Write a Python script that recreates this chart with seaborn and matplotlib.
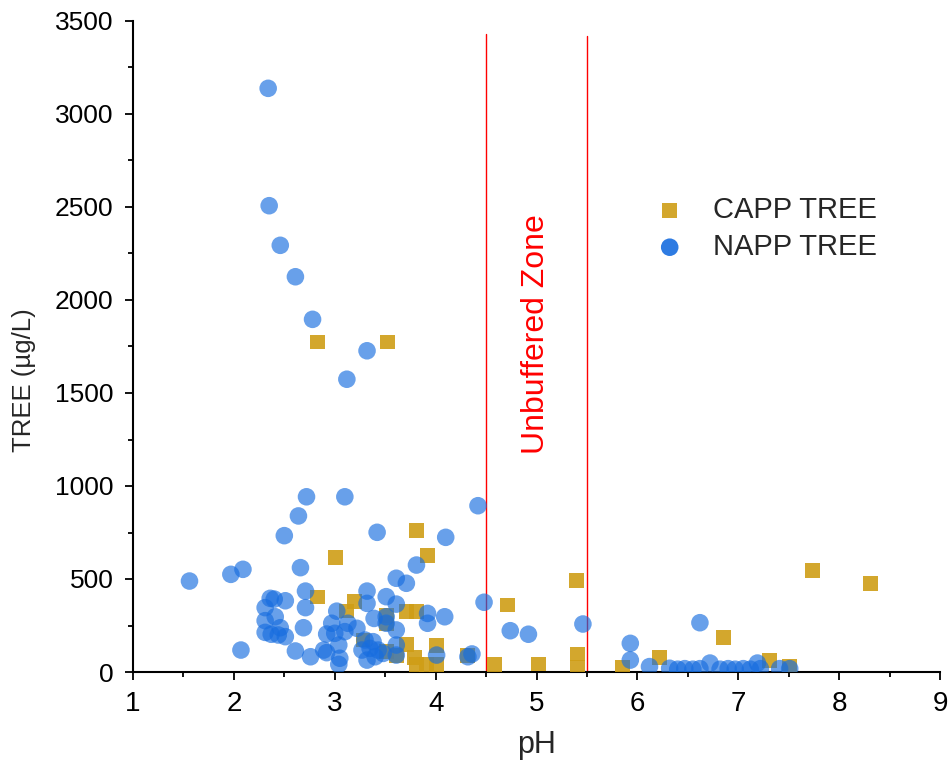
import matplotlib
matplotlib.use("Agg")
import matplotlib.pyplot as plt
import seaborn as sns
import pandas as pd
from matplotlib.ticker import MultipleLocator

# ---- data ----
capp_ph = [2.83, 2.83, 3.52, 3.01, 3.20, 3.12, 3.28, 3.51, 3.51, 3.51, 3.61, 3.71,
           3.81, 3.71, 3.79, 3.81, 3.91, 4.01, 4.01, 3.81, 3.92, 4.32, 4.58, 4.71,
           5.02, 5.40, 5.41, 5.41, 5.85, 6.22, 6.85, 7.31, 7.51, 7.74, 8.31]
capp_tree = [403, 1774, 1774, 617, 380, 328, 172, 306, 262, 109, 88, 324,
             324, 150, 78, 38, 38, 38, 143, 763, 624, 91, 41, 360,
             43, 493, 97, 25, 25, 80, 184, 61, 29, 548, 477]

napp_ph = [1.56, 1.97, 2.07, 2.09, 2.31, 2.31, 2.31, 2.34, 2.35, 2.36, 2.40, 2.37,
           2.41, 2.44, 2.46, 2.46, 2.50, 2.51, 2.51, 2.61, 2.61, 2.64, 2.66, 2.69,
           2.71, 2.71, 2.72, 2.76, 2.78, 2.89, 2.92, 2.92, 2.97, 3.00, 3.02, 3.04,
           3.05, 3.04, 3.10, 3.10, 3.12, 3.13, 3.22, 3.32, 3.32, 3.32, 3.39, 3.42,
           3.51, 3.51, 3.51, 3.61, 3.61, 3.61, 3.61, 3.61, 3.71, 3.81, 3.92, 3.92,
           4.01, 4.09, 4.10, 4.32, 4.36, 4.42, 4.48, 4.74, 4.92, 5.46, 5.93, 5.93,
           6.12, 6.62, 6.72, 7.19,
           3.30, 3.38, 3.27, 3.35, 3.43, 3.32, 3.40, 3.48,
           6.32, 6.40, 6.47, 6.55, 6.62, 6.82, 6.90, 6.97, 7.05, 7.12, 7.22, 7.41, 7.51]
napp_tree = [489, 525, 118, 552, 346, 276, 213, 3138, 2507, 396, 392, 203,
             297, 199, 2294, 238, 733, 383, 190, 2125, 113, 839, 561, 238,
             435, 346, 942, 82, 1896, 118, 104, 204, 262, 208, 327, 145,
             74, 41, 942, 217, 1574, 262, 235, 1727, 435, 369, 288, 751,
             405, 297, 262, 504, 365, 226, 145, 91, 477, 575, 315, 262,
             91, 297, 724, 82, 97, 894, 375, 222, 203, 258, 154, 64,
             29, 265, 48, 48,
             172, 163, 118, 127, 118, 64, 82, 100,
             20, 15, 18, 15, 18, 15, 18, 15, 18, 15, 18, 18, 18]

zone_bounds = [4.5, 5.5]
zone_label = "Unbuffered Zone"
series_names = ["CAPP TREE", "NAPP TREE"]

capp = pd.DataFrame({"pH": capp_ph, "TREE": capp_tree})
napp = pd.DataFrame({"pH": napp_ph, "TREE": napp_tree})

sns.set_style("ticks")
plt.rcParams["font.family"] = ["Liberation Sans", "DejaVu Sans"]

fig = plt.figure(figsize=(9.51, 7.75), dpi=100)
ax = fig.add_axes([133 / 951, 1 - 672 / 775, (940 - 133) / 951, (672 - 21) / 775])

sns.scatterplot(data=capp, x="pH", y="TREE", ax=ax, marker="s", s=115,
                color=(207 / 255, 158 / 255, 22 / 255), alpha=0.9,
                edgecolor="none", label=series_names[0], zorder=3)
sns.scatterplot(data=napp, x="pH", y="TREE", ax=ax, marker="o", s=160,
                color="#176ddf", alpha=0.65, edgecolor="none",
                label=series_names[1], zorder=4)

ax.axvline(zone_bounds[0], ymin=0, ymax=3430 / 3500, color="red", lw=1.0, zorder=2)
ax.axvline(zone_bounds[1], ymin=0, ymax=3420 / 3500, color="red", lw=1.0, zorder=2)
ax.text(5.0, 1817, zone_label, rotation=90, color="red", fontsize=23,
        ha="center", va="center")

ax.set_xlim(1, 9)
ax.set_ylim(0, 3500)
ax.xaxis.set_major_locator(MultipleLocator(1))
ax.xaxis.set_minor_locator(MultipleLocator(0.5))
ax.yaxis.set_major_locator(MultipleLocator(500))
ax.yaxis.set_minor_locator(MultipleLocator(250))
ax.tick_params(which="major", direction="out", length=6, width=1.3,
               labelsize=19, color="black", labelcolor="black", pad=8)
ax.tick_params(which="minor", direction="out", length=3.5, width=1.3, color="black")
ax.tick_params(axis="x", which="major", labelsize=20)

for side in ["top", "right"]:
    ax.spines[side].set_visible(False)
for side in ["left", "bottom"]:
    ax.spines[side].set_linewidth(1.5)
    ax.spines[side].set_color("black")

ax.set_xlabel("pH", fontsize=22)
ax.set_ylabel("TREE (\u00b5g/L)", fontsize=18.5)
ax.xaxis.set_label_coords(0.5, (672 - 745) / 651, transform=ax.transAxes)
ax.yaxis.set_label_coords((24 - 133) / 807, (672 - 380) / 651, transform=ax.transAxes)
ax.xaxis.label.set_va("center")
ax.yaxis.label.set_va("center")

leg = ax.legend(loc="upper left", bbox_to_anchor=(0.647, 0.731), frameon=False,
                fontsize=21, handlelength=1.0, handletextpad=1.0,
                labelspacing=0.3, borderaxespad=0, borderpad=0)
for h in leg.legend_handles:
    h.set_alpha(0.9)

fig.savefig("out.png", dpi=100)
